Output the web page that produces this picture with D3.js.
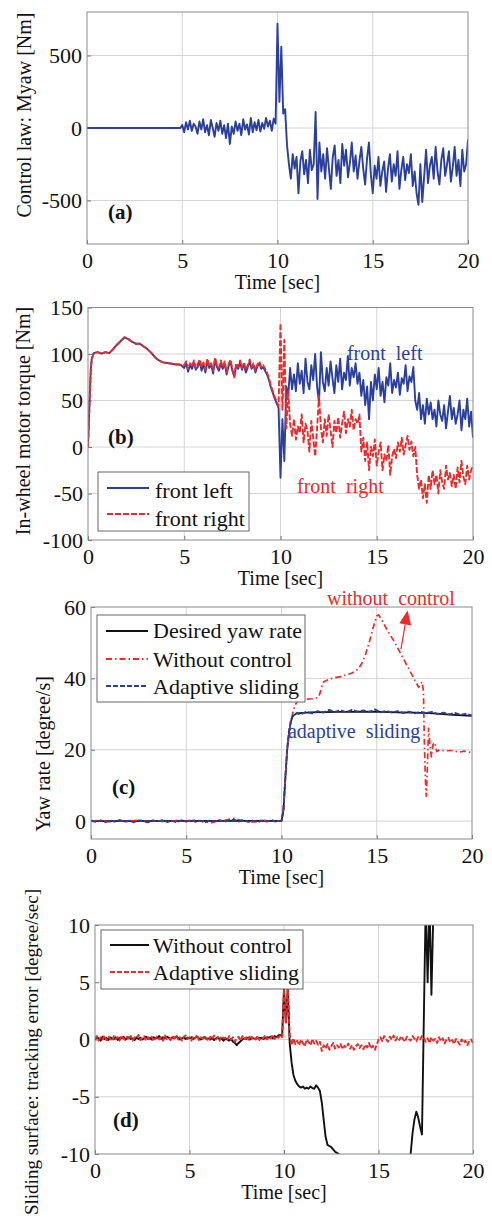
<!DOCTYPE html>
<html>
<head>
<meta charset="utf-8">
<script src="https://cdn.jsdelivr.net/npm/d3@7"></script>
<style>
body { margin: 0; background: #fff; }
svg { display: block; font-family: "Liberation Serif", "Times New Roman", serif; }
</style>
</head>
<body>
<script>
// values, time grid of 0.1 s where the signal is noisy
const step = 0.1;
const xTicks = [0, 5, 10, 15, 20];

// (a) control law Myaw [Nm], flat 0 before 5 s, then 5.0 .. 20.0
const myawTicks = [-500, 0, 500];
const myawFlat = [[0, 0], [4.9, 0]];
const myaw = [
  20, -30, 40, -10, 50, -20, 30, 10, -40, 45,
  -10, 60, -30, 20, -50, 55, 0, -60, 35, -20,
  50, -40, 20, -70, 30, -110, 10, -40, 45, -20,
  30, -50, 60, -10, 25, -45, 70, -30, 40, -15,
  55, -25, 35, -5, 70, 10, 50, -20, 65, 30,
  720, 180, 560, 100, 130, -120, -250, -350, -180, -280,
  -200, -450, -230, -160, -320, -220, -380, -150, -290, -250,
  110, -490, -100, -300, -180, -350, -140, -280, -420, -200,
  -120, -330, -220, -380, -110, -260, -150, -340, -240, -100,
  -300, -190, -350, -230, -130, -280, -390, -210, -100, -320,
  -450, -260, -350, -200, -400, -300, -230, -440, -280, -180,
  -370, -250, -330, -160, -420, -290, -200, -360, -250, -310,
  -180, -400, -300, -450, -530, -250, -510, -330, -150, -380,
  -260, -200, -350, -130, -300, -390, -220, -140, -330, -250,
  -160, -370, -270, -130, -330, -220, -400, -150, -300, -250,
  -80
];

// (b) in-wheel motor torque [Nm], common start 0..4.8 s, then 5.0 .. 20.0
const torqueTicks = [-100, -50, 0, 50, 100, 150];
const torqueStart = [[0, 0], [0.05, 30], [0.1, 60], [0.15, 85], [0.2, 95], [0.3, 101], [0.5, 102],
  [0.7, 100.5], [0.9, 102], [1.1, 101], [1.3, 105], [1.5, 110], [1.7, 114], [1.9, 118], [2.1, 116],
  [2.3, 113], [2.5, 111], [2.7, 111], [2.9, 108], [3.1, 105], [3.3, 101], [3.5, 96], [3.7, 93],
  [3.9, 91], [4.2, 90], [4.5, 89], [4.8, 88.5]];
const frontLeft = [
  85, 90, 81, 88, 84, 91, 83, 86, 92, 82,
  89, 80, 93, 85, 88, 79, 94, 86, 82, 90,
  84, 90, 78, 87, 92, 82, 76, 88, 84, 91,
  83, 89, 80, 86, 92, 84, 88, 80, 87, 90,
  84, 86, 82, 78, 72, 64, 58, 52, 47, 42,
  -33, 30, -15, 65, 55, 85, 62, 78, 60, 90,
  68, 82, 58, 95, 70, 62, 88, 72, 100, 65,
  48, 102, 70, 60, 85, 66, 92, 74, 58, 88,
  70, 95, 62, 80, 72, 98, 66, 85, 75, 90,
  68, 80, 55, 72, 45, 65, 30, 70, 50, 78,
  62, 85, 55, 70, 48, 75, 66, 90, 58, 72,
  64, 80, 56, 74, 68, 88, 60, 76, 70, 86,
  50, 40, 58, 30, 45, 25, 52, 35, 48, 30,
  40, 22, 50, 35, 28, 45, 20, 38, 55, 30,
  42, 25, 35, 50, 18, 40, 30, 52, 22, 38,
  10
];
const frontRight = [
  88, 92, 84, 90, 86, 93, 85, 89, 94, 86,
  91, 83, 95, 87, 90, 82, 96, 88, 85, 93,
  86, 92, 80, 89, 94, 84, 75, 90, 86, 93,
  85, 91, 83, 88, 94, 86, 90, 82, 89, 92,
  86, 88, 84, 80, 74, 66, 60, 54, 49, 44,
  133, 40, 115, 20, 60, 25, 12, 30, 8, 22,
  15, 35, 5, 25, 18, -5, 28, 10, -10, 20,
  55, 20, 5, 30, 12, 35, 18, 0, 28, 15,
  32, 10, 25, 38, 15, 30, 22, 40, 18, 30,
  25, 35, -5, 10, -15, 5, -25, 0, -10, 8,
  -20, -5, 5, -25, -8, -15, 2, -30, -10, -2,
  -12, 5, -5, 10, -8, 2, 12, -3, 6, -10,
  0, -30, -45, -35, -55, -40, -60, -30, -45, -25,
  -40, -30, -50, -25, -38, -45, -20, -35, -28, -42,
  -30, -45, -22, -38, -15, -32, -40, -20, -35, -25,
  -20
];

// (c) yaw rate [degree/s], [time, value]
const yawTicks = [0, 20, 40, 60];
const desiredYaw = [[0, 0], [10.0, 0.1], [10.1, 3], [10.2, 12], [10.3, 20], [10.4, 25], [10.5, 28],
  [10.6, 29.5], [10.8, 30.2], [11.5, 30.5], [13, 30.6], [15, 30.7], [16, 30.5], [17, 30.4],
  [18, 30.2], [19, 29.8], [20, 29.5]];
const withoutYaw = [[0, 0], [0.5, 0.3], [1, -0.2], [1.5, 0.2], [2, -0.1], [2.5, 0.3], [3, -0.2],
  [3.5, 0.1], [4, -0.3], [4.5, 0.2], [5, 0], [5.5, 0.3], [6, -0.2], [6.3, -0.5], [6.6, 0.1],
  [7, 0.2], [7.5, 0.8], [8, 0.1], [8.5, -0.2], [9, 0.3], [9.5, -0.1], [10, 0.1], [10.1, 3],
  [10.2, 12], [10.3, 20], [10.4, 25], [10.5, 28], [10.6, 30.5], [10.7, 32.3], [10.8, 33.3],
  [11.0, 34], [11.3, 34.2], [11.6, 34.3], [11.9, 34.6], [12.0, 35.5], [12.1, 37.5], [12.2, 39],
  [12.5, 39.8], [12.8, 40.2], [13.1, 40.5], [13.4, 41], [13.7, 41.5], [14.0, 42.5], [14.2, 44],
  [14.4, 46.5], [14.6, 50], [14.8, 54], [15.0, 57.5], [15.1, 57.8], [15.3, 56], [15.6, 53],
  [15.9, 50.5], [16.2, 47.5], [16.5, 44.5], [16.8, 41.5], [17.1, 38.5], [17.2, 37.5], [17.3, 38.5],
  [17.38, 39], [17.45, 36.5], [17.5, 22], [17.55, 12], [17.6, 7], [17.65, 14], [17.72, 26],
  [17.8, 21], [17.87, 18], [17.95, 21.5], [18.05, 22], [18.15, 19.5], [18.3, 20], [18.6, 19.7],
  [19, 19.8], [19.3, 19.3], [19.6, 19.6], [20, 19.2]];
const adaptiveYaw = [[0, 0.2], [0.25, -0.2], [0.5, 0.1], [0.75, -0.3], [1, 0.2], [1.25, -0.1],
  [1.5, 0.3], [1.75, -0.2], [2, 0.1], [2.25, -0.3], [2.5, 0.2], [2.75, 0], [3, -0.3], [3.25, 0.2],
  [3.5, -0.1], [3.75, 0.3], [4, -0.2], [4.25, 0.1], [4.5, -0.3], [4.75, 0.2], [5, -0.1],
  [5.25, 0.3], [5.5, -0.2], [5.75, 0.1], [6, -0.3], [6.25, 0.2], [6.5, -0.1], [6.75, 0.3],
  [7, -0.2], [7.25, 0.2], [7.5, 0.4], [7.75, -0.1], [8, 0.3], [8.25, -0.2], [8.5, 0.1],
  [8.75, -0.3], [9, 0.2], [9.25, -0.1], [9.5, 0.3], [9.75, -0.2], [10, 0.1], [10.1, 3],
  [10.2, 12], [10.3, 20.5], [10.4, 25.5], [10.5, 28.5], [10.6, 29.6], [10.8, 30.3], [11.0, 29.9],
  [11.3, 30.6], [11.6, 30.2], [11.9, 30.8], [12.2, 30.4], [12.5, 31.2], [12.8, 30.6], [13.1, 31.1],
  [13.4, 30.5], [13.7, 31.2], [14.0, 30.7], [14.3, 31.0], [14.6, 30.6], [14.9, 31.3], [15.2, 30.5],
  [15.5, 30.9], [15.8, 30.4], [16.1, 30.8], [16.4, 30.3], [16.7, 30.7], [17.0, 30.2], [17.3, 30.6],
  [17.6, 30.3], [17.9, 30.6], [18.2, 30.0], [18.5, 30.4], [18.8, 29.9], [19.1, 30.3], [19.4, 29.8],
  [19.7, 30.1], [20, 29.6]];

// (d) sliding surface [degree/sec], 0.0 .. 20.0
const surfTicks = [-10, -5, 0, 5, 10];
const surfWithout = [
  0.0, 0.2, 0.1, -0.1, 0.25, 0.05, 0.15, -0.05, 0.2, 0.1,
  0.05, 0.2, -0.05, 0.15, 0.1, 0.25, 0.0, 0.1, 0.2, 0.05,
  0.1, -0.05, 0.2, 0.05, 0.15, 0.0, 0.1, 0.25, 0.05, 0.15,
  0.0, 0.2, 0.1, 0.15, 0.3, 0.05, 0.2, 0.1, 0.25, 0.15,
  0.05, 0.2, 0.1, 0.25, 0.15, 0.0, 0.1, 0.2, 0.05, 0.15,
  0.1, 0.2, 0.05, 0.15, 0.25, 0.1, 0.0, 0.15, 0.2, 0.05,
  0.1, 0.0, 0.15, -0.05, 0.1, 0.2, 0.0, 0.1, -0.1, 0.05,
  0.0, -0.1, 0.05, -0.2, -0.3, -0.5, -0.3, -0.15, 0.0, 0.1,
  0.05, 0.15, 0.0, 0.2, 0.1, 0.05, 0.2, 0.1, 0.15, 0.05,
  0.1, 0.2, 0.15, 0.25, 0.1, 0.3, 0.2, 0.35, 0.4, 0.3,
  4.4, 1.5, 4.5, -0.3, -2.0, -3.1, -3.6, -3.9, -4.1, -4.2,
  -4.1, -4.3, -4.2, -4.3, -4.1, -4.25, -4.3, -4.0, -4.2, -4.5,
  -5.5, -7.0, -8.5, -9.2, -9.3, -9.4, -9.6, -9.8, -9.9, -10.0,
  -10.3, -10.7, -11.2, -11.8, -12.4, -13.0, -13.5, -14.0, -14.5, -15.0,
  -15.4, -15.8, -16.0, -16.2, -16.3, -16.3, -16.2, -16.0, -15.8, -15.5,
  -15.2, -14.9, -14.6, -14.3, -14.0, -13.8, -13.6, -13.4, -13.2, -13.0,
  -12.8, -12.5, -12.2, -11.8, -11.4, -11.0, -10.5, -10.0, -8.2, -7.0,
  -6.3, -6.8, -7.6, -8.3, 2.0, 12.0, 5.0, 12.0, 3.9, 11.0,
  10.1, 11.5, 12.5, 13.2, 13.8, 14.2, 14.6, 15.0, 15.3, 15.5,
  15.7, 15.9, 16.0, 16.1, 16.2, 16.3, 16.3, 16.4, 16.4, 16.5,
  16.5
];
const surfAdaptive = [
  0.1, 0.3, -0.1, 0.2, 0.0, 0.35, -0.05, 0.25, 0.1, -0.15,
  0.3, 0.05, 0.2, -0.1, 0.35, 0.1, -0.05, 0.25, 0.0, 0.3,
  -0.1, 0.2, 0.1, 0.4, -0.05, 0.15, 0.3, -0.1, 0.2, 0.05,
  0.25, -0.15, 0.1, 0.3, 0.0, 0.2, -0.1, 0.35, 0.05, 0.15,
  -0.05, 0.3, 0.1, 0.4, 0.0, 0.2, -0.1, 0.25, 0.35, 0.05,
  0.2, -0.1, 0.3, 0.1, 0.4, -0.05, 0.2, 0.05, 0.3, 0.1,
  -0.15, 0.25, 0.05, 0.35, 0.0, 0.2, -0.1, 0.3, 0.1, 0.15,
  -0.05, 0.3, 0.0, 0.2, -0.2, 0.1, 0.25, -0.1, 0.3, 0.05,
  0.2, -0.1, 0.35, 0.05, 0.25, 0.0, 0.3, -0.05, 0.2, 0.1,
  0.35, 0.0, 0.25, 0.1, 0.4, 0.05, 0.3, 0.15, 0.35, 0.2,
  4.4, 1.5, 4.5, 0.4, -0.5, 0.1, -0.4, -0.1, -0.5, 0.0,
  -0.3, -0.6, 0.0, -0.2, -0.5, 0.05, -0.35, -0.1, -0.45, -0.2,
  -1.0, -0.5, -0.8, -0.4, -0.9, -0.6, -0.3, -0.8, -0.5, -0.7,
  -0.4, -0.85, -0.55, -0.7, -0.35, -0.8, -0.5, -0.9, -0.6, -0.4,
  -0.75, -0.5, -0.85, -0.45, -0.7, -0.3, -0.8, -0.55, -0.9, -0.5,
  0.0, 0.2, -0.15, 0.3, 0.05, -0.2, 0.25, 0.0, 0.35, -0.1,
  0.2, -0.05, 0.3, 0.0, -0.2, 0.25, 0.05, -0.1, 0.3, 0.1,
  -0.15, 0.2, 0.0, 0.3, 0.15, -0.2, 0.1, -0.3, 0.2, -0.1,
  0.05, -0.3, 0.2, -0.15, 0.1, -0.35, 0.0, 0.15, -0.25, -0.05,
  -0.4, 0.05, -0.2, -0.45, 0.0, -0.3, -0.1, -0.5, -0.15, 0.0,
  -0.3
];

// put values on the time grid starting at t0
function onGrid(t0, values) {
  return values.map((v, i) => [+(t0 + i * step).toFixed(2), v]);
}

const blue = "#2b3f9c", red = "#ee2a2a", black = "#111";

const svg = d3.select("body").append("svg")
  .attr("width", 492)
  .attr("height", 1228);

const panels = [
  {
    id: "a", left: 87, right: 468, top: 12, bottom: 244,
    yDomain: [-800, 800], yTicks: myawTicks,
    yLabel: "Control law: Myaw [Nm]", yLabelX: 31, yLabelY: 115,
    letter: "(a)", letterAt: [1.1, -630],
    series: [{data: myawFlat.concat(onGrid(5, myaw)), color: blue, width: 1.9}]
  },
  {
    id: "b", left: 88, right: 473, top: 307.5, bottom: 540,
    yDomain: [-100, 150], yTicks: torqueTicks,
    yLabel: "In-wheel motor torque [Nm]", yLabelX: 30, yLabelY: 421,
    letter: "(b)", letterAt: [1.04, 3],
    series: [
      {data: torqueStart.concat(onGrid(5, frontLeft)), color: blue, width: 1.9},
      {data: torqueStart.concat(onGrid(5, frontRight)), color: red, width: 1.9, dash: "6,2"}
    ],
    legend: {x: 98, y: 472, w: 151, h: 59, lineX: [107, 149], textX: 155, entries: [
      {label: "front left", color: blue, ly: 488, ty: 498},
      {label: "front right", color: red, dash: "6,2", ly: 514, ty: 526}
    ]},
    notes: [
      {text: "front  left", at: [13.45, 93.5], color: blue},
      {text: "front  right", at: [10.86, -49.5], color: red}
    ]
  },
  {
    id: "c", left: 91, right: 472, top: 607, bottom: 839,
    yDomain: [-5, 60], yTicks: yawTicks,
    yLabel: "Yaw rate [degree/s]", yLabelX: 50, yLabelY: 754,
    letter: "(c)", letterAt: [1.1, 7.6],
    series: [
      {data: desiredYaw, color: black, width: 1.7},
      {data: withoutYaw, color: red, width: 1.7, dash: "6,3,1.5,3"},
      {data: adaptiveYaw, color: blue, width: 1.9, dash: "5,2"}
    ],
    legend: {x: 97, y: 615, w: 208, h: 87, lineX: [106, 148], textX: 153, entries: [
      {label: "Desired yaw rate", color: black, ly: 631, ty: 638},
      {label: "Without control", color: red, dash: "6,3,1.5,3", ly: 659, ty: 667},
      {label: "Adaptive sliding", color: blue, dash: "5,2", ly: 686, ty: 694}
    ]},
    notes: [
      {text: "without  control", at: [12.39, 60.6], color: red},
      {text: "adaptive  sliding", at: [10.34, 23.4], color: blue}
    ],
    arrow: {from: [16.27, 48.2], to: [16.62, 59.0], color: red}
  },
  {
    id: "d", left: 95, right: 473, top: 925, bottom: 1154,
    yDomain: [-10, 10], yTicks: surfTicks,
    yLabel: "Sliding surface: tracking error [degree/sec]", yLabelX: 38, yLabelY: 889,
    yLabelAnchor: "end", yLabelSize: "19px",
    letter: "(d)", letterAt: [0.95, -7.6],
    series: [
      {data: onGrid(0, surfWithout), color: black, width: 1.9},
      {data: onGrid(0, surfAdaptive), color: red, width: 1.9, dash: "5,2"}
    ],
    legend: {x: 101, y: 930, w: 202, h: 59, lineX: [110, 149], textX: 153, entries: [
      {label: "Without control", color: black, ly: 945, ty: 953},
      {label: "Adaptive sliding", color: red, dash: "5,2", ly: 972, ty: 980}
    ]}
  }
];

panels.forEach(drawPanel);

function drawPanel(p) {
  const x = d3.scaleLinear().domain([0, 20]).range([p.left, p.right]);
  const y = d3.scaleLinear().domain(p.yDomain).range([p.bottom, p.top]);
  const g = svg.append("g").attr("id", "panel-" + p.id);

  g.append("clipPath").attr("id", "clip-" + p.id)
    .append("rect")
    .attr("x", p.left).attr("y", p.top)
    .attr("width", p.right - p.left).attr("height", p.bottom - p.top);

  // grid
  g.append("g").selectAll("line")
    .data(xTicks.filter(t => t > 0 && t < 20))
    .enter().append("line")
    .attr("x1", d => x(d)).attr("x2", d => x(d))
    .attr("y1", p.top).attr("y2", p.bottom)
    .style("stroke", "#d4d4d4").style("stroke-width", 1);
  g.append("g").selectAll("line")
    .data(p.yTicks.filter(t => t > p.yDomain[0] && t < p.yDomain[1]))
    .enter().append("line")
    .attr("x1", p.left).attr("x2", p.right)
    .attr("y1", d => y(d)).attr("y2", d => y(d))
    .style("stroke", "#d4d4d4").style("stroke-width", 1);

  // axes, MATLAB style inward ticks
  const ax = g.append("g")
    .attr("transform", "translate(0," + p.bottom + ")")
    .call(d3.axisBottom(x).tickValues(xTicks).tickSize(-4).tickPadding(8).tickFormat(d3.format("d")));
  const ay = g.append("g")
    .attr("transform", "translate(" + p.left + ",0)")
    .call(d3.axisLeft(y).tickValues(p.yTicks).tickSize(-4).tickPadding(5).tickFormat(d3.format("d")));
  [ax, ay].forEach(a => {
    a.select(".domain").remove();
    a.selectAll("line").style("stroke", "#777");
    a.selectAll("text")
      .style("font-family", "'Liberation Serif', 'Times New Roman', serif")
      .style("font-size", "22px")
      .style("fill", "#111");
  });
  ay.selectAll("text").text(d => d < 0 ? "-" + Math.abs(d) : d);

  // series
  const line = d3.line().x(d => x(d[0])).y(d => y(d[1]));
  const lines = g.append("g").attr("clip-path", "url(#clip-" + p.id + ")");
  p.series.forEach(s => {
    lines.append("path")
      .datum(s.data)
      .attr("d", line)
      .style("fill", "none")
      .style("stroke", s.color)
      .style("stroke-width", s.width)
      .style("stroke-linejoin", "round")
      .style("stroke-dasharray", s.dash || null);
  });

  // box
  g.append("rect")
    .attr("x", p.left).attr("y", p.top)
    .attr("width", p.right - p.left).attr("height", p.bottom - p.top)
    .style("fill", "none").style("stroke", "#8a8a8a").style("stroke-width", 1);

  // labels
  g.append("text")
    .attr("x", (p.left + p.right) / 2)
    .attr("y", p.bottom + 45)
    .attr("text-anchor", "middle")
    .style("font-size", "20px")
    .style("fill", "#111")
    .text("Time [sec]");
  g.append("text")
    .attr("transform", "translate(" + p.yLabelX + "," + p.yLabelY + ") rotate(-90)")
    .attr("text-anchor", p.yLabelAnchor || "middle")
    .style("font-size", p.yLabelSize || "20px")
    .style("fill", "#111")
    .text(p.yLabel);
  g.append("text")
    .attr("x", x(p.letterAt[0])).attr("y", y(p.letterAt[1]))
    .style("font-size", "21px")
    .style("font-weight", "bold")
    .style("fill", "#111")
    .text(p.letter);

  (p.notes || []).forEach(n => {
    g.append("text")
      .attr("x", x(n.at[0])).attr("y", y(n.at[1]))
      .style("font-size", "20px")
      .style("fill", n.color)
      .style("white-space", "pre")
      .attr("xml:space", "preserve")
      .text(n.text);
  });

  if (p.arrow) {
    const x1 = x(p.arrow.from[0]), y1 = y(p.arrow.from[1]);
    const x2 = x(p.arrow.to[0]), y2 = y(p.arrow.to[1]);
    const len = Math.hypot(x2 - x1, y2 - y1), ux = (x2 - x1) / len, uy = (y2 - y1) / len;
    const head = 14, half = 6;
    const bx = x2 - ux * head, by = y2 - uy * head;
    g.append("line")
      .attr("x1", x1).attr("y1", y1).attr("x2", bx).attr("y2", by)
      .style("stroke", p.arrow.color).style("stroke-width", 1.2);
    g.append("polygon")
      .attr("points", [[x2, y2], [bx - uy * half, by + ux * half], [bx + uy * half, by - ux * half]].join(" "))
      .style("fill", p.arrow.color);
  }

  if (p.legend) {
    const L = p.legend;
    const lg = g.append("g");
    lg.append("rect")
      .attr("x", L.x).attr("y", L.y).attr("width", L.w).attr("height", L.h)
      .style("fill", "#fff").style("stroke", "#666").style("stroke-width", 1);
    L.entries.forEach(e => {
      lg.append("line")
        .attr("x1", L.lineX[0]).attr("x2", L.lineX[1])
        .attr("y1", e.ly).attr("y2", e.ly)
        .style("stroke", e.color).style("stroke-width", 2)
        .style("stroke-dasharray", e.dash || null);
      lg.append("text")
        .attr("x", L.textX).attr("y", e.ty)
        .style("font-size", "22px")
        .style("fill", "#111")
        .text(e.label);
    });
  }
}
</script>
</body>
</html>
